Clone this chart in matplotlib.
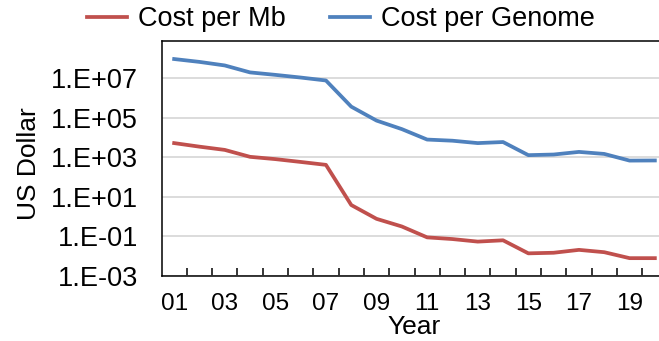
import matplotlib
matplotlib.use("Agg")
import matplotlib.pyplot as plt
from matplotlib.ticker import FixedLocator, NullFormatter

plt.rcParams['font.family'] = ['Liberation Sans', 'DejaVu Sans']

# sequencing cost, 2001-2020
years = ['01', '02', '03', '04', '05', '06', '07', '08', '09', '10',
         '11', '12', '13', '14', '15', '16', '17', '18', '19', '20']
cost_per_mb = [5300, 3500, 2400, 1070, 820, 590, 420, 3.9, 0.78, 0.32,
               0.09, 0.074, 0.055, 0.064, 0.014, 0.015, 0.021, 0.016, 0.008, 0.008]
cost_per_genome = [9.5e7, 6.8e7, 4.5e7, 2.0e7, 1.5e7, 1.1e7, 7.8e6, 3.7e5, 7.3e4, 2.7e4,
                   8.0e3, 7.0e3, 5.3e3, 6.0e3, 1.3e3, 1.4e3, 1.9e3, 1.5e3, 690, 700]
ytick_vals = [1e-3, 1e-1, 1e1, 1e3, 1e5, 1e7]
ytick_labels = ['1.E-03', '1.E-01', '1.E+01', '1.E+03', '1.E+05', '1.E+07']

W, H = 659, 341
fig = plt.figure(figsize=(W / 100, H / 100), dpi=100)
ax = fig.add_axes([161.5 / W, (H - 276) / H, 506 / W, 235 / H])

x = list(range(len(years)))
ax.plot(x, cost_per_mb, color='#C0504D', lw=2.7, label='Cost per Mb',
        solid_joinstyle='round')
ax.plot(x, cost_per_genome, color='#4F81BD', lw=2.7, label='Cost per Genome',
        solid_joinstyle='round')

ax.set_yscale('log')
ax.set_ylim(1e-3, 10 ** 8.89)
ax.set_xlim(-0.5, len(years) - 0.5)

ax.yaxis.set_major_locator(FixedLocator(ytick_vals))
ax.set_yticklabels(ytick_labels)
ax.yaxis.set_minor_locator(FixedLocator([]))
ax.tick_params(axis='y', which='major', length=0, pad=17, labelsize=19.5)
ax.grid(axis='y', color='#D9D9D9', lw=1.3)

ax.set_xticks(x[::2])
ax.set_xticklabels(years[::2])
ax.xaxis.set_minor_locator(FixedLocator([i + 0.5 for i in x[:-1]]))
ax.xaxis.set_minor_formatter(NullFormatter())
ax.tick_params(axis='x', which='major', length=0, pad=12, labelsize=17.5)
ax.tick_params(axis='x', which='minor', direction='in', length=6, width=1.1)

for side in ['left', 'bottom', 'top']:
    ax.spines[side].set_color('black')
    ax.spines[side].set_linewidth(1.1)
ax.spines['right'].set_visible(False)

ax.set_xlabel('Year', fontsize=19, labelpad=0)
ax.set_ylabel('US Dollar', fontsize=19)
ax.yaxis.set_label_coords(-0.238, 0.48)

fig.legend(loc='center', bbox_to_anchor=(341 / W, 1 - 19 / H), ncol=2,
           frameon=False, fontsize=19.5, handlelength=1.48, handletextpad=0.4,
           columnspacing=1.63)

fig.savefig('out.png', dpi=100)
